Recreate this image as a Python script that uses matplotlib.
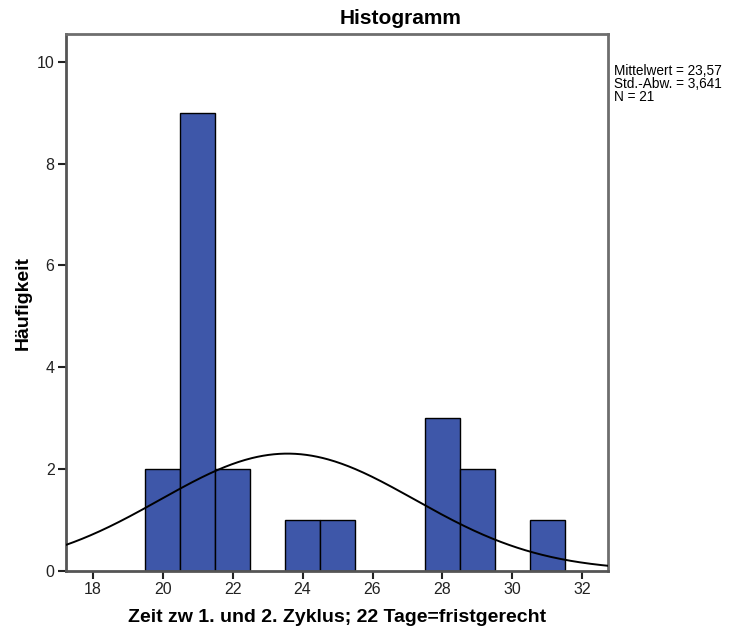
import numpy as np
import matplotlib
matplotlib.use("Agg")
import matplotlib.pyplot as plt

plt.rcParams['font.family'] = ['Liberation Sans', 'DejaVu Sans']

# Data
bin_centers = [20, 21, 22, 24, 25, 28, 29, 31]
counts = [2, 9, 2, 1, 1, 3, 2, 1]
bin_width = 1.0
mean = 23.57
std = 3.641
n = 21
x_ticks = [18, 20, 22, 24, 26, 28, 30, 32]
y_ticks = [0, 2, 4, 6, 8, 10]

fig = plt.figure(figsize=(7.35, 6.33), dpi=100)
ax = fig.add_axes([0.0894, 0.0984, 0.7382, 0.8474])

ax.bar(bin_centers, counts, width=bin_width, color='#3E57A9',
       edgecolor='black', linewidth=1.0, zorder=2)

xs = np.linspace(17.23, 32.74, 400)
ys = n * bin_width * np.exp(-0.5 * ((xs - mean) / std) ** 2) / (std * np.sqrt(2 * np.pi))
ax.plot(xs, ys, color='black', linewidth=1.4, zorder=3)

ax.set_xlim(17.23, 32.74)
ax.set_ylim(0, 10.54)
ax.set_xticks(x_ticks)
ax.set_yticks(y_ticks)
ax.tick_params(axis='both', direction='out', length=6, width=1.5,
               color='#222222', labelsize=11.5, labelcolor='#222222', pad=2)
for s in ax.spines.values():
    s.set_color('#6e6e6e')
    s.set_linewidth(2)
ax.spines['left'].set_color('#555555')
ax.spines['bottom'].set_color('#555555')

ax.set_xlabel('Zeit zw 1. und 2. Zyklus; 22 Tage=fristgerecht',
              fontsize=14, fontweight='bold', labelpad=9)
ax.set_ylabel('Häufigkeit', fontsize=14, fontweight='bold', labelpad=4)

fig.text(401 / 735, 1 - 18 / 633, 'Histogramm', ha='center', va='center',
         fontsize=15, fontweight='bold')
fig.text(614 / 735, 1 - 64 / 633,
         'Mittelwert = 23,57\nStd.-Abw. = 3,641\nN = 21',
         ha='left', va='top', fontsize=9.8, linespacing=0.92)

fig.savefig('out.png', dpi=100)
